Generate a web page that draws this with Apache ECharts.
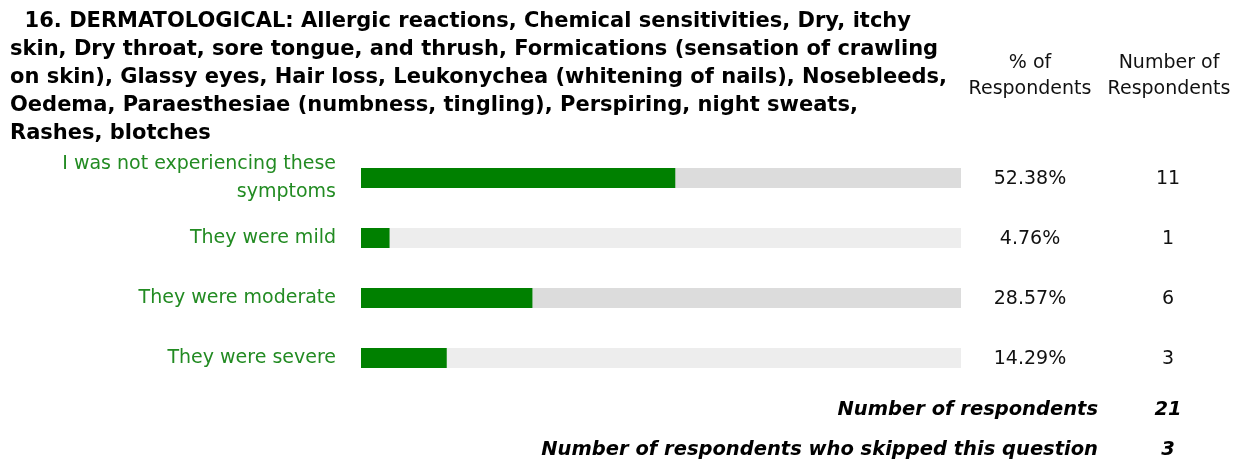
<!DOCTYPE html>
<html>
<head>
<meta charset="utf-8">
<script src="https://cdn.jsdelivr.net/npm/echarts@6/dist/echarts.min.js"></script>
<style>
  html, body { margin: 0; padding: 0; background: #fff; }
  #chart { width: 1242px; height: 463px; }
</style>
</head>
<body>
<div id="chart"></div>
<script>
// answer options and results
var categories = ['I was not experiencing these\nsymptoms', 'They were mild', 'They were moderate', 'They were severe'];
var percents = [52.38, 4.76, 28.57, 14.29];
var counts = [11, 1, 6, 3];
var trackMax = 100;
var answered = 21;
var skipped = 3;

var titleText = '  16. DERMATOLOGICAL: Allergic reactions, Chemical sensitivities, Dry, itchy\n' +
  'skin, Dry throat, sore tongue, and thrush, Formications (sensation of crawling\n' +
  'on skin), Glassy eyes, Hair loss, Leukonychea (whitening of nails), Nosebleeds,\n' +
  'Oedema, Paraesthesiae (numbness, tingling), Perspiring, night sweats,\n' +
  'Rashes, blotches';

var trackColors = ['#dcdcdc', '#ededed', '#dcdcdc', '#ededed'];
var fontName = 'DejaVu Sans';

var chartDom = document.getElementById('chart');
var myChart = echarts.init(chartDom);
var option;

option = {
  animation: false,
  title: {
    text: titleText,
    left: 10,
    top: 8,
    padding: 0,
    textStyle: {
      fontFamily: fontName,
      fontWeight: 'bold',
      fontSize: 21,
      lineHeight: 28,
      color: '#000'
    }
  },
  grid: {
    left: 361,
    right: 281,
    top: 148,
    height: 240
  },
  xAxis: {
    type: 'value',
    min: 0,
    max: trackMax,
    show: false
  },
  yAxis: [
    {
      type: 'category',
      inverse: true,
      data: categories,
      axisLine: { show: false },
      axisTick: { show: false },
      axisLabel: {
        margin: 25,
        align: 'right',
        fontFamily: fontName,
        fontSize: 19,
        lineHeight: 28,
        padding: [4, 0, 0, 0],
        color: '#228b22'
      }
    },
    {
      type: 'category',
      inverse: true,
      position: 'right',
      data: categories,
      axisLine: { show: false },
      axisTick: { show: false },
      axisLabel: {
        margin: 0,
        formatter: function (val, i) {
          return '{p|' + percents[i].toFixed(2) + '%}{n|' + counts[i] + '}';
        },
        rich: {
          p: { width: 138, align: 'center', fontFamily: fontName, fontSize: 19, color: '#111', padding: [3, 0, 0, 0] },
          n: { width: 138, align: 'center', fontFamily: fontName, fontSize: 19, color: '#111', padding: [3, 0, 0, 0] }
        }
      }
    }
  ],
  series: [
    {
      name: 'track',
      type: 'bar',
      barWidth: 20,
      barGap: '-100%',
      silent: true,
      data: percents.map(function (v, i) {
        return { value: trackMax, itemStyle: { color: trackColors[i] } };
      })
    },
    {
      name: '% of Respondents',
      type: 'bar',
      barWidth: 20,
      barGap: '-100%',
      itemStyle: { color: '#008000' },
      data: percents
    }
  ],
  graphic: [
    {
      type: 'text',
      x: 1030,
      y: 50,
      style: {
        text: '% of\nRespondents',
        align: 'center',
        font: '19px "DejaVu Sans"',
        lineHeight: 26,
        fill: '#111'
      }
    },
    {
      type: 'text',
      x: 1169,
      y: 50,
      style: {
        text: 'Number of\nRespondents',
        align: 'center',
        font: '19px "DejaVu Sans"',
        lineHeight: 26,
        fill: '#111'
      }
    },
    {
      type: 'text',
      x: 1098,
      y: 400,
      style: {
        text: 'Number of respondents',
        align: 'right',
        font: 'italic bold 19.5px "DejaVu Sans"',
        fill: '#000'
      }
    },
    {
      type: 'text',
      x: 1168,
      y: 400,
      style: {
        text: String(answered),
        align: 'center',
        font: 'italic bold 19.5px "DejaVu Sans"',
        fill: '#000'
      }
    },
    {
      type: 'text',
      x: 1098,
      y: 440,
      style: {
        text: 'Number of respondents who skipped this question',
        align: 'right',
        font: 'italic bold 19.5px "DejaVu Sans"',
        fill: '#000'
      }
    },
    {
      type: 'text',
      x: 1168,
      y: 440,
      style: {
        text: String(skipped),
        align: 'center',
        font: 'italic bold 19.5px "DejaVu Sans"',
        fill: '#000'
      }
    }
  ]
};

option && myChart.setOption(option);
</script>
</body>
</html>
